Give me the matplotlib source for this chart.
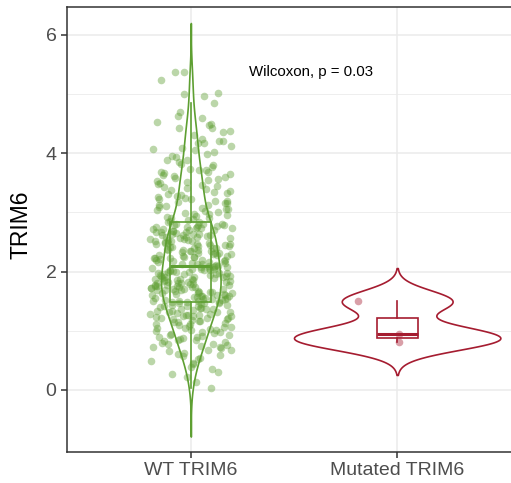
import numpy as np
import matplotlib
matplotlib.use("Agg")
import matplotlib.pyplot as plt

# ---------------- data ----------------
groups = ["WT TRIM6", "Mutated TRIM6"]
wt_values = [
    0.03, 0.14, 0.22,
    0.27, 0.31, 0.36, 0.39, 0.43, 0.46, 0.49, 0.52, 0.54, 0.57, 0.59, 0.61, 0.63, 0.65, 0.67, 0.68, 0.70, 0.72, 0.73, 0.74,
    0.76, 0.77, 0.78, 0.80, 0.81, 0.82, 0.84, 0.85, 0.86, 0.87, 0.89, 0.90, 0.91, 0.92, 0.93, 0.95, 0.96, 0.97, 0.98, 0.99,
    1.01, 1.02, 1.03, 1.04, 1.05, 1.06, 1.07, 1.08, 1.09, 1.11, 1.12, 1.13, 1.14, 1.15, 1.16, 1.17, 1.18, 1.19, 1.20,
    1.21, 1.22, 1.22, 1.23, 1.24, 1.24,
    1.25, 1.26, 1.27, 1.27, 1.28, 1.29, 1.30, 1.31, 1.32, 1.32, 1.33, 1.34, 1.35, 1.36, 1.37, 1.37, 1.38, 1.39, 1.40,
    1.41, 1.42, 1.42, 1.43, 1.44, 1.45, 1.46, 1.47, 1.47, 1.48, 1.49, 1.49,
    1.50, 1.51, 1.51, 1.52, 1.52, 1.53, 1.54, 1.54, 1.55, 1.56, 1.56, 1.57, 1.57, 1.58, 1.59, 1.59, 1.60, 1.61, 1.61, 1.62,
    1.62, 1.63, 1.64, 1.64, 1.65, 1.66, 1.66, 1.67, 1.67, 1.68, 1.69, 1.69, 1.70, 1.71, 1.71, 1.72, 1.72, 1.73, 1.74, 1.74,
    1.75, 1.76, 1.76, 1.77, 1.77, 1.78, 1.79, 1.79, 1.80, 1.81, 1.81, 1.82, 1.82, 1.83, 1.84, 1.84, 1.85, 1.86, 1.86, 1.87,
    1.87, 1.88, 1.89, 1.89, 1.90, 1.91, 1.91, 1.92, 1.92, 1.93, 1.94, 1.94, 1.95, 1.96, 1.96, 1.97, 1.97, 1.98, 1.99, 1.99,
    2.00, 2.01, 2.01, 2.02, 2.02, 2.03, 2.04, 2.04, 2.05, 2.06, 2.06, 2.07, 2.07, 2.08, 2.09, 2.09, 2.10,
    2.11, 2.12, 2.13, 2.13, 2.14, 2.15, 2.16, 2.16, 2.17, 2.18, 2.19, 2.19, 2.20, 2.21, 2.22, 2.22, 2.23, 2.24, 2.25, 2.25,
    2.26, 2.27, 2.28, 2.28, 2.29, 2.30, 2.31, 2.31, 2.32, 2.33, 2.34, 2.34, 2.35, 2.36, 2.37, 2.37, 2.38, 2.39, 2.40, 2.40,
    2.41, 2.42, 2.43, 2.43, 2.44, 2.45, 2.46, 2.46, 2.47, 2.48, 2.49, 2.49, 2.50, 2.51, 2.52, 2.52, 2.53, 2.54, 2.55, 2.55,
    2.56, 2.57, 2.58, 2.58, 2.59, 2.60, 2.61, 2.61, 2.62, 2.63, 2.64, 2.64, 2.65, 2.66, 2.67, 2.67, 2.68, 2.69, 2.70, 2.70,
    2.71, 2.72, 2.73, 2.73, 2.74, 2.75, 2.76, 2.76, 2.77, 2.78, 2.79, 2.79, 2.80, 2.81, 2.81,
    2.83, 2.84, 2.86, 2.87, 2.88, 2.90, 2.91, 2.92, 2.94, 2.95, 2.97, 2.98, 2.99, 3.01, 3.02, 3.04, 3.05, 3.06, 3.08, 3.09,
    3.11, 3.12, 3.13, 3.15, 3.16, 3.18, 3.19, 3.20, 3.22, 3.23, 3.24,
    3.26, 3.28, 3.29, 3.31, 3.33, 3.34, 3.36, 3.38, 3.39, 3.41, 3.43, 3.44, 3.46, 3.48, 3.49, 3.51, 3.53, 3.54, 3.56, 3.58,
    3.59, 3.61, 3.63, 3.64, 3.66, 3.68, 3.69, 3.71, 3.72, 3.74,
    3.77, 3.80, 3.82, 3.85, 3.88, 3.89, 3.93, 3.95, 3.98, 4.02, 4.05, 4.07, 4.09, 4.12, 4.17, 4.18, 4.20, 4.21, 4.24,
    4.30, 4.35, 4.37, 4.42, 4.43, 4.48, 4.50, 4.52, 4.59, 4.63, 4.70,
    4.84, 4.96, 5.00, 5.02, 5.24,
    5.37, 5.38,
]
mut_values = [0.81, 0.94, 1.50]
p_label = "Wilcoxon, p = 0.03"
y_label = "TRIM6"
y_ticks = [0, 2, 4, 6]

# ---------------- style ----------------
colors = ["#5E9F32", "#A51C30"]
plt.rcParams['font.family'] = ['Liberation Sans', 'DejaVu Sans']

fig = plt.figure(figsize=(5.11, 4.83), dpi=100)
ax = fig.add_axes([67 / 511, 31 / 483, (521 - 67) / 511, (452 - 7) / 483])

series = [np.asarray(wt_values, float), np.asarray(mut_values, float)]
positions = [1, 2]


def kde_curve(v):
    n = len(v)
    q75, q25 = np.percentile(v, [75, 25])
    bw = 0.9 * min(np.std(v, ddof=1), (q75 - q25) / 1.34) * n ** (-0.2)
    grid = np.linspace(v.min() - 3 * bw, v.max() + 3 * bw, 512)
    dens = np.exp(-0.5 * ((grid[:, None] - v[None, :]) / bw) ** 2).sum(axis=1)
    dens /= n * bw * np.sqrt(2 * np.pi)
    return grid, dens


curves = [kde_curve(v) for v in series]
dmax = max(d.max() for _, d in curves)

# grid
for yv in y_ticks:
    ax.axhline(yv, color="#EBEBEB", lw=1.1, zorder=0)
for yv in [1, 3, 5]:
    ax.axhline(yv, color="#EBEBEB", lw=0.6, zorder=0)
for xv in positions:
    ax.axvline(xv, color="#EBEBEB", lw=1.1, zorder=0)

for (grid, dens), pos, col in zip(curves, positions, colors):
    half = 0.5 * dens / dmax
    ax.fill_betweenx(grid, pos - half, pos + half, facecolor="white",
                     edgecolor=col, linewidth=1.2, zorder=2)

# jittered points (deterministic hash jitter, width 0.2)
for g, (v, pos, col) in enumerate(zip(series, positions, colors)):
    idx = np.arange(len(v)) + 1 + 7 * g
    h = np.sin(idx * 12.9898 + 78.233) * 43758.5453
    jit = (h - np.floor(h) - 0.5) * 0.4
    ax.scatter(pos + jit, v, s=30, color=col, alpha=0.42, linewidths=0, zorder=3)

bp = ax.boxplot(series, positions=positions, widths=0.2, whis=1.5,
                showfliers=False, showcaps=False, patch_artist=True,
                manage_ticks=False, zorder=4)
for i, col in enumerate(colors):
    bp['boxes'][i].set_facecolor("none")
    bp['boxes'][i].set_edgecolor(col)
    bp['boxes'][i].set_linewidth(1.2)
    bp['medians'][i].set_color(col)
    bp['medians'][i].set_linewidth(2.2)
    for w in bp['whiskers'][2 * i:2 * i + 2]:
        w.set_color(col)
        w.set_linewidth(1.2)

ax.text(1.58, 5.37, p_label, ha="center", va="center", fontsize=10.8, color="black")

ax.set_xlim(0.4, 2.6)
ax.set_ylim(-1.05, 6.47)
ax.set_xticks(positions)
ax.set_xticklabels(groups)
ax.set_yticks(y_ticks)
ax.tick_params(axis="both", colors="#333333", labelcolor="#4D4D4D",
               labelsize=14, length=4, width=1.1)
ax.set_ylabel(y_label, fontsize=16.5, color="black")
ax.yaxis.set_label_coords(-0.077, 0.51)
for s in ax.spines.values():
    s.set_color("#333333")
    s.set_linewidth(1.1)

fig.savefig("out.png", dpi=100)
